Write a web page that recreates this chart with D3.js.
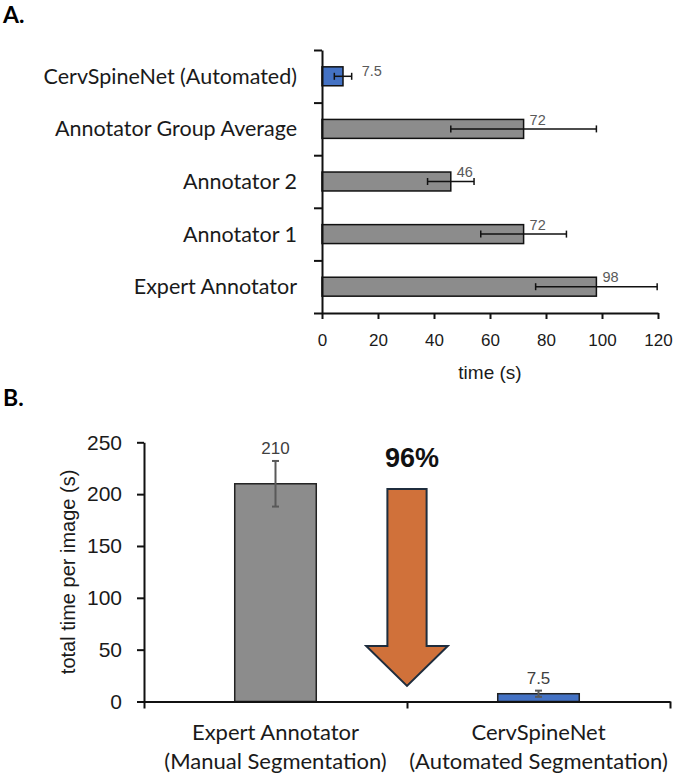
<!DOCTYPE html>
<html>
<head>
<meta charset="utf-8">
<script src="https://cdn.jsdelivr.net/npm/d3@7"></script>
<style>
  body { margin: 0; background: #fff; }
  svg { display: block; }
</style>
</head>
<body>
<div id="viz"></div>
<script>
// panel A data (per-annotator time, seconds)
var categoriesA = ["CervSpineNet (Automated)", "Annotator Group Average", "Annotator 2", "Annotator 1", "Expert Annotator"];
var timesA = [7.5, 72, 46, 72, 98];
var errorsA = [3.1, 26, 8.3, 15.3, 21.7];
var valueLabelsA = ["7.5", "72", "46", "72", "98"];
var ticksA = [0, 20, 40, 60, 80, 100, 120];

// panel B data (total time per image, seconds)
var categoriesB = [["Expert Annotator", "(Manual Segmentation)"], ["CervSpineNet", "(Automated Segmentation)"]];
var timesB = [210, 7.5];
var errorsB = [22, 3];
var valueLabelsB = ["210", "7.5"];
var ticksB = [0, 50, 100, 150, 200, 250];
var reductionLabel = "96%";
var arrowSpan = [205, 15];   // arrow from / to, in seconds on the B axis

var width = 676,
    height = 775;

var catFont = "Lato, 'Open Sans', sans-serif",
    numFont = "'Liberation Sans', Arial, sans-serif";
var blue = "#4472c4", grey = "#8c8c8c";

var svg = d3.select("#viz")
  .append("svg")
  .attr("width", width)
  .attr("height", height);

// ---------- panel A ----------
var xA = d3.scaleLinear().domain([0, 120]).range([322, 658]);
var yA = d3.scaleBand().domain(categoriesA).range([50, 313]).paddingInner(0.64).paddingOuter(0.32);
var yABounds = d3.scaleLinear().domain([0, categoriesA.length]).range([50, 313]);

svg.append("text")
  .attr("x", 3).attr("y", 23)
  .style("font-family", catFont).style("font-weight", 700).style("font-size", "23px")
  .text("A.");

var dataA = categoriesA.map((c, i) => ({cat: c, v: timesA[i], e: errorsA[i], label: valueLabelsA[i]}));

// bars
svg.append("g").selectAll("rect")
  .data(dataA)
  .enter().append("rect")
  .attr("x", xA(0))
  .attr("y", d => yA(d.cat))
  .attr("width", d => xA(d.v) - xA(0))
  .attr("height", yA.bandwidth())
  .attr("fill", d => d.cat.indexOf("CervSpineNet") === 0 ? blue : grey)
  .attr("stroke", "#111")
  .attr("stroke-width", 1.5);

// error bars
var errA = svg.append("g").selectAll("g")
  .data(dataA)
  .enter().append("g")
  .attr("transform", d => "translate(0," + (yA(d.cat) + yA.bandwidth() / 2) + ")")
  .attr("stroke", "#111")
  .attr("stroke-width", 1.5);
errA.append("line")
  .attr("x1", d => xA(d.v - d.e)).attr("x2", d => xA(d.v + d.e));
errA.append("line")
  .attr("x1", d => xA(d.v - d.e)).attr("x2", d => xA(d.v - d.e)).attr("y1", -3.5).attr("y2", 3.5);
errA.append("line")
  .attr("x1", d => xA(d.v + d.e)).attr("x2", d => xA(d.v + d.e)).attr("y1", -3.5).attr("y2", 3.5);

// value labels: short bars get the label past the error bar
var isShort = d => xA(d.v + d.e) - xA(d.v) < 12;
svg.append("g").selectAll("text")
  .data(dataA)
  .enter().append("text")
  .attr("x", d => isShort(d) ? xA(d.v + d.e) + 10 : xA(d.v) + 6)
  .attr("y", d => yA(d.cat) + (isShort(d) ? 4 : 0))
  .attr("dy", "0.35em")
  .style("font-family", numFont).style("font-size", "14.5px")
  .attr("fill", "#595959")
  .text(d => d.label);

// axes
var xAxisA = d3.axisBottom(xA).tickValues(ticksA).tickSize(6).tickSizeOuter(0).tickPadding(15);
var gxA = svg.append("g")
  .attr("transform", "translate(0,313)")
  .call(xAxisA);
gxA.selectAll("text").style("font-family", numFont).style("font-size", "17px").attr("fill", "#1a1a1a");

var yAxisA = d3.axisLeft(yABounds).ticks(categoriesA.length).tickSize(8).tickSizeOuter(0).tickFormat("");
svg.append("g")
  .attr("transform", "translate(322,0)")
  .call(yAxisA);

svg.selectAll(".domain, .tick line").attr("stroke", "#111").attr("stroke-width", 2);

// category labels
svg.append("g").selectAll("text")
  .data(categoriesA)
  .enter().append("text")
  .attr("x", 297)
  .attr("y", d => yA(d) + yA.bandwidth() / 2)
  .attr("dy", "0.35em")
  .attr("text-anchor", "end")
  .style("font-family", catFont).style("font-size", "21.5px")
  .attr("fill", "#1a1a1a")
  .text(d => d);

svg.append("text")
  .attr("x", (xA.range()[0] + xA.range()[1]) / 2)
  .attr("y", 372)
  .attr("dy", "0.35em")
  .attr("text-anchor", "middle")
  .style("font-family", numFont).style("font-size", "19px")
  .attr("fill", "#1a1a1a")
  .text("time (s)");

// ---------- panel B ----------
svg.append("text")
  .attr("x", 3).attr("y", 406)
  .style("font-family", catFont).style("font-weight", 700).style("font-size", "23px")
  .text("B.");

var xB = d3.scaleBand().domain(d3.range(categoriesB.length)).range([144, 670]);
var xBBounds = d3.scaleLinear().domain([0, categoriesB.length]).range([144, 670]);
var yB = d3.scaleLinear().domain([0, 250]).range([701.5, 442.3]);
var barWB = xB.bandwidth() * 0.31;

var dataB = timesB.map((v, i) => ({i: i, v: v, e: errorsB[i], label: valueLabelsB[i], lines: categoriesB[i]}));

svg.append("g").selectAll("rect")
  .data(dataB)
  .enter().append("rect")
  .attr("x", d => xB(d.i) + xB.bandwidth() / 2 - barWB / 2)
  .attr("y", d => yB(d.v))
  .attr("width", barWB)
  .attr("height", d => yB(0) - yB(d.v))
  .attr("fill", d => d.i === 1 ? blue : grey)
  .attr("stroke", "#222")
  .attr("stroke-width", 1.5);

var errB = svg.append("g").selectAll("g")
  .data(dataB)
  .enter().append("g")
  .attr("transform", d => "translate(" + (xB(d.i) + xB.bandwidth() / 2) + ",0)")
  .attr("stroke", "#595959")
  .attr("stroke-width", 2);
errB.append("line").attr("y1", d => yB(d.v - d.e)).attr("y2", d => yB(d.v + d.e));
errB.append("line").attr("x1", -3.5).attr("x2", 3.5).attr("y1", d => yB(d.v - d.e)).attr("y2", d => yB(d.v - d.e));
errB.append("line").attr("x1", -3.5).attr("x2", 3.5).attr("y1", d => yB(d.v + d.e)).attr("y2", d => yB(d.v + d.e));

svg.append("g").selectAll("text")
  .data(dataB)
  .enter().append("text")
  .attr("x", d => xB(d.i) + xB.bandwidth() / 2)
  .attr("y", d => yB(d.v + d.e) - 13)
  .attr("dy", "0.35em")
  .attr("text-anchor", "middle")
  .style("font-family", numFont).style("font-size", "17px")
  .attr("fill", "#404040")
  .text(d => d.label);

// axes
var yAxisB = d3.axisLeft(yB).tickValues(ticksB).tickSize(7).tickSizeOuter(0).tickPadding(15);
var gyB = svg.append("g")
  .attr("transform", "translate(144,0)")
  .call(yAxisB);
gyB.selectAll("text").style("font-family", numFont).style("font-size", "21px").attr("fill", "#1a1a1a");

var xAxisB = d3.axisBottom(xBBounds).ticks(categoriesB.length).tickSize(7).tickSizeOuter(0).tickFormat("");
svg.append("g")
  .attr("transform", "translate(0," + yB(0) + ")")
  .call(xAxisB);

svg.selectAll(".domain, .tick line").attr("stroke", "#111").attr("stroke-width", 2);

// category labels (two lines)
var catB = svg.append("g").selectAll("text")
  .data(dataB)
  .enter().append("text")
  .attr("text-anchor", "middle")
  .style("font-family", catFont).style("font-size", "22px")
  .attr("fill", "#1a1a1a");
catB.selectAll("tspan")
  .data(d => d.lines.map(l => ({x: xB(d.i) + xB.bandwidth() / 2, t: l})))
  .enter().append("tspan")
  .attr("x", d => d.x)
  .attr("y", (d, j) => 732 + j * 29)
  .attr("dy", "0.35em")
  .text(d => d.t);

svg.append("text")
  .attr("transform", "translate(68," + (yB.range()[0] + yB.range()[1]) / 2 + ") rotate(-90)")
  .attr("dy", "0.35em")
  .attr("text-anchor", "middle")
  .style("font-family", numFont).style("font-size", "20px")
  .attr("fill", "#1a1a1a")
  .text("total time per image (s)");

// reduction arrow between the bars
var ax = xBBounds(1),
    aTop = yB(arrowSpan[0]),
    aTip = yB(arrowSpan[1]),
    aNeck = aTip - 40,
    shaftW = 19.6,
    headW = 40.8;
var arrowPath = d3.path();
arrowPath.moveTo(ax - shaftW, aTop);
arrowPath.lineTo(ax + shaftW, aTop);
arrowPath.lineTo(ax + shaftW, aNeck);
arrowPath.lineTo(ax + headW, aNeck);
arrowPath.lineTo(ax, aTip);
arrowPath.lineTo(ax - headW, aNeck);
arrowPath.lineTo(ax - shaftW, aNeck);
arrowPath.closePath();
svg.append("path")
  .attr("d", arrowPath.toString())
  .attr("fill", "#d0713a")
  .attr("stroke", "#1f2d3d")
  .attr("stroke-width", 2)
  .attr("stroke-linejoin", "miter");

svg.append("text")
  .attr("x", ax + 5)
  .attr("y", aTop - 31)
  .attr("dy", "0.35em")
  .attr("text-anchor", "middle")
  .style("font-family", numFont).style("font-weight", 700).style("font-size", "27px")
  .attr("fill", "#111")
  .text(reductionLabel);
</script>
</body>
</html>
